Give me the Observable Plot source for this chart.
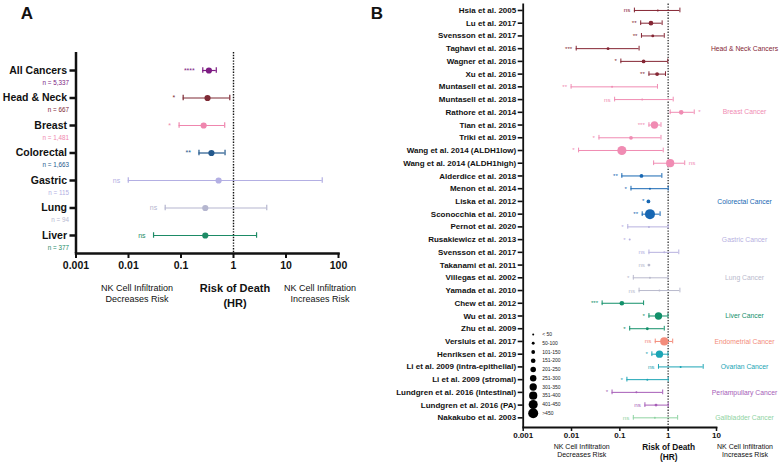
<!DOCTYPE html>
<html><head><meta charset="utf-8">
<script src="https://cdn.jsdelivr.net/npm/d3@7"></script>
<script src="https://cdn.jsdelivr.net/npm/@observablehq/plot@0.6"></script>
<style>
body{margin:0;background:#fff;font-family:"Liberation Sans",Arial,sans-serif;}
#wrap{position:relative;width:779px;height:462px;overflow:hidden;background:#fff;}
#wrap svg{position:absolute;overflow:visible;}
.abs{position:absolute;white-space:nowrap;text-align:center;color:#111;}
</style></head><body><div id="wrap"></div>
<script>
// ---------- Panel A data ----------
const aCats = ["All Cancers","Head & Neck","Breast","Colorectal","Gastric","Lung","Liver"];
const aHR = [0.34, 0.32, 0.27, 0.38, 0.52, 0.29, 0.29];
const aLo = [0.26, 0.11, 0.092, 0.22, 0.0099, 0.05, 0.03];
const aHi = [0.47, 0.85, 0.68, 0.69, 49, 4.3, 2.75];
const aN = ["n = 5,337","n = 667","n = 1,481","n = 1,663","n = 115","n = 94","n = 377"];
const aSig = ["****","*","*","**","ns","ns","ns"];
const aColors = ["#7D1C83","#7E2A35","#EF86AE","#24598D","#B3AFE3","#B5B6CF","#1D8B66"];
const aTicks = [0.001, 0.01, 0.1, 1, 10, 100];
const aTickLabels = ["0.001","0.01","0.1","1","10","100"];

// ---------- Panel B data ----------
const bStudies = ["Hsia et al. 2005","Lu et al. 2017","Svensson et al. 2017","Taghavi et al. 2016","Wagner et al. 2016","Xu et al. 2016",
 "Muntasell et al. 2018","Muntasell et al. 2018","Rathore et al. 2014","Tian et al. 2016","Triki et al. 2019","Wang et al. 2014 (ALDH1low)","Wang et al. 2014 (ALDH1high)",
 "Alderdice et al. 2018","Menon et al. 2014","Liska et al. 2012","Sconocchia et al. 2010",
 "Pernot et al. 2020","Rusakiewicz et al. 2013","Svensson et al. 2017",
 "Takanami et al. 2011","Villegas et al. 2002","Yamada et al. 2010",
 "Chew et al. 2012","Wu et al. 2013","Zhu et al. 2009",
 "Versluis et al. 2017",
 "Henriksen et al. 2019","Li et al. 2009 (intra-epithelial)","Li et al. 2009 (stromal)",
 "Lundgren et al. 2016 (Intestinal)","Lundgren et al. 2016 (PA)",
 "Nakakubo et al. 2003"];
const bGroupOf = ["Head & Neck Cancers","Head & Neck Cancers","Head & Neck Cancers","Head & Neck Cancers","Head & Neck Cancers","Head & Neck Cancers",
 "Breast Cancer","Breast Cancer","Breast Cancer","Breast Cancer","Breast Cancer","Breast Cancer","Breast Cancer",
 "Colorectal Cancer","Colorectal Cancer","Colorectal Cancer","Colorectal Cancer",
 "Gastric Cancer","Gastric Cancer","Gastric Cancer",
 "Lung Cancer","Lung Cancer","Lung Cancer",
 "Liver Cancer","Liver Cancer","Liver Cancer",
 "Endometrial Cancer",
 "Ovarian Cancer","Ovarian Cancer","Ovarian Cancer",
 "Periampullary Cancer","Periampullary Cancer",
 "Gallbladder Cancer"];
const bHR = [0.61,0.44,0.48,0.057,0.31,0.59, 0.069,0.29,1.86,0.52,0.17,0.11,1.1, 0.28,0.42,0.39,0.42, 0.40,0.16,0.83, 0.40,0.42,0.66, 0.11,0.63,0.37, 0.83, 0.66,1.81,0.37, 0.22,0.56, 0.53];
const bLo = [0.20,0.27,0.28,0.0125,0.105,0.40, 0.0098,0.078,1.1,0.40,0.037,0.014,0.50, 0.11,0.17,null,0.29, 0.146,null,0.40, null,0.19,0.25, 0.043,0.40,0.16, 0.54, 0.46,0.63,0.14, 0.069,0.33, 0.19];
const bHi = [1.75,0.75,0.83,0.25,0.98,0.88, 0.60,1.27,3.46,0.71,0.71,0.79,2.2, 0.74,1.0,null,0.68, 1.0,null,1.66, null,0.99,1.75, 0.31,0.99,0.83, 1.24, 0.99,5.3,1.0, 0.77,1.0, 1.57];
const bSig = ["ns","**","**","***","*","**", "**","ns","*","***","*","*","ns", "**","*","*","**", "*","*","ns", "ns","*","ns", "***","*","*", "ns", "*","ns","*", "*","ns", "ns"];
const bSizeClass = [0,3,1,1,2,2, 0,0,3,6,2,8,7, 2,0,2,9, 0,0,0, 1,0,0, 3,6,1, 7, 6,0,0, 0,1, 0];
const bSigRightRows = [8, 12];
const bGroups = ["Head & Neck Cancers","Breast Cancer","Colorectal Cancer","Gastric Cancer","Lung Cancer","Liver Cancer","Endometrial Cancer","Ovarian Cancer","Periampullary Cancer","Gallbladder Cancer"];
const bGroupColors = ["#852634","#F08CB3","#1767B3","#B7B1DF","#B9BACD","#12906A","#F38C7B","#1BA5B5","#A65DB8","#8FD3A2"];
const bGroupLabelRow = [3, 8, 15, 18, 21, 24, 26, 28, 30, 32];
const bTicks = [0.001, 0.01, 0.1, 1, 10];
const bTickLabels = ["0.001","0.01","0.1","1","10"];
const sizeLabels = ["< 50","50-100","101-150","151-200","201-250","251-300","301-350","351-400","401-450",">450"];

const FONT = '"Liberation Sans", Arial, sans-serif';
const wrap = document.getElementById("wrap");

// ---------- Panel A ----------
const aRows = aCats.map((c,i)=>({c, hr:aHR[i], lo:aLo[i], hi:aHi[i], n:aN[i], sig:aSig[i]}));
const plotA = Plot.plot({
  width:350, height:320, marginLeft:75.5, marginRight:12, marginTop:52, marginBottom:67,
  style:{fontFamily:FONT, background:"transparent", overflow:"visible", color:"#111"},
  x:{type:"log", domain:[0.001,100], label:null},
  y:{type:"band", domain:aCats, paddingInner:0, paddingOuter:0.155, round:false, label:null},
  color:{domain:aCats, range:aColors},
  marks:[
    Plot.ruleX([1], {stroke:"#111", strokeDasharray:"1.4,1.4", strokeWidth:1.4}),
    Plot.ruleY(aRows, {y:"c", x1:"lo", x2:"hi", stroke:"c", strokeWidth:1.2}),
    Plot.tickX(aRows, {y:"c", x:"lo", stroke:"c", strokeWidth:1.2, insetTop:11, insetBottom:11}),
    Plot.tickX(aRows, {y:"c", x:"hi", stroke:"c", strokeWidth:1.2, insetTop:11, insetBottom:11}),
    Plot.dot(aRows, {y:"c", x:"hr", fill:"c", r:3.1}),
    Plot.text(aRows, {y:"c", x:"lo", text:"sig", fill:"c", textAnchor:"end", dx:-8, fontSize:7}),
    Plot.text(aRows, {y:"c", text:"n", fill:"c", frameAnchor:"left", textAnchor:"end", dx:-7, dy:12, fontSize:6.3}),
    Plot.ruleX([0.001], {stroke:"#111", strokeWidth:2.5}),
    Plot.frame({anchor:"bottom", stroke:"#111", strokeWidth:2.5}),
    Plot.axisY({tickSize:6, tickPadding:3, fontSize:10.5, fontWeight:"bold", strokeWidth:2.5, label:null}),
    Plot.axisX({ticks:aTicks, tickFormat:(d,i)=>aTickLabels[aTicks.indexOf(d)], tickSize:5, tickPadding:3, fontSize:10.5, fontWeight:"bold", strokeWidth:2, label:null})
  ]
});
plotA.style.left = "0px"; plotA.style.top = "0px";
wrap.appendChild(plotA);

// ---------- Panel B ----------
const bRows = bStudies.map((s,i)=>({i, s, g:bGroupOf[i], hr:bHR[i], lo:bLo[i], hi:bHi[i], sig:bSig[i], sz:bSizeClass[i], right:bSigRightRows.includes(i)}));
const rScale = {type:"linear", domain:[0,9], range:[1,5]};
const bGroupRows = bGroups.map((g,k)=>({g, row:bGroupLabelRow[k]}));
const plotB = Plot.plot({
  width:429, height:462, marginLeft:172.7, marginRight:63, marginTop:3.6, marginBottom:35,
  style:{fontFamily:FONT, background:"transparent", overflow:"visible", color:"#111"},
  x:{type:"log", domain:[0.001,10], label:null},
  y:{type:"band", domain:d3.range(bStudies.length), paddingInner:0, paddingOuter:0, round:false, insetBottom:3.3, label:null},
  color:{domain:bGroups, range:bGroupColors},
  r:rScale,
  marks:[
    Plot.ruleX([1], {stroke:"#555", strokeDasharray:"1.3,1.5", strokeWidth:1.6}),
    Plot.ruleY(bRows.filter(d=>d.lo!=null), {y:"i", x1:"lo", x2:"hi", stroke:"g", strokeWidth:1}),
    Plot.tickX(bRows.filter(d=>d.lo!=null), {y:"i", x:"lo", stroke:"g", strokeWidth:1, insetTop:4, insetBottom:4}),
    Plot.tickX(bRows.filter(d=>d.hi!=null), {y:"i", x:"hi", stroke:"g", strokeWidth:1, insetTop:4, insetBottom:4}),
    Plot.dot(bRows, {y:"i", x:"hr", fill:"g", r:"sz"}),
    Plot.text(bRows.filter(d=>!d.right), {y:"i", x:d=>d.lo ?? d.hr, text:"sig", fill:"g", textAnchor:"end", dx:-4, fontSize:6.2}),
    Plot.text(bRows.filter(d=>d.right), {y:"i", x:"hi", text:"sig", fill:"g", textAnchor:"start", dx:4, fontSize:6.2}),
    Plot.text(bGroupRows, {y:"row", text:"g", fill:"g", frameAnchor:"right", dx:28, textAnchor:"middle", fontSize:6.8}),
    Plot.ruleX([0.001], {stroke:"#111", strokeWidth:1.8}),
    Plot.frame({anchor:"bottom", stroke:"#111", strokeWidth:1.8}),
    Plot.axisY({tickFormat:i=>bStudies[i], tickSize:5, tickPadding:2, fontSize:8, fontWeight:"bold", strokeWidth:1.6, label:null}),
    Plot.axisX({ticks:bTicks, tickFormat:d=>bTickLabels[bTicks.indexOf(d)], tickSize:4, tickPadding:1, fontSize:8, fontWeight:"bold", strokeWidth:1.5, label:null})
  ]
});
plotB.style.left = "350px"; plotB.style.top = "0px";
wrap.appendChild(plotB);

// ---------- Size legend (panel B) ----------
const legend = Plot.plot({
  width:40, height:92, marginLeft:5.7, marginRight:0, marginTop:6, marginBottom:7.3,
  style:{fontFamily:FONT, background:"transparent", overflow:"visible", color:"#111"},
  y:{type:"point", domain:sizeLabels, padding:0, round:false, axis:null},
  r:rScale,
  marks:[
    Plot.dot(sizeLabels, {y:d=>d, r:(d,i)=>i, fill:"#000", frameAnchor:"left"}),
    Plot.text(sizeLabels, {y:d=>d, text:d=>d, frameAnchor:"left", dx:9, textAnchor:"start", fontSize:5, fill:"#222"})
  ]
});
legend.style.left = "527px"; legend.style.top = "328px";
wrap.appendChild(legend);

// ---------- Text annotations ----------
function addText(html, cx, top, size, weight, lh){
  const d = document.createElement("div");
  d.className = "abs";
  d.innerHTML = html;
  d.style.left = (cx-70)+"px"; d.style.width = "140px";
  d.style.top = top+"px"; d.style.fontSize = size+"px"; d.style.fontWeight = weight; d.style.lineHeight = lh+"px";
  wrap.appendChild(d);
}
addText("A", 27, 5, 17, "bold", 17);
addText("B", 377, 5, 17, "bold", 17);
addText("NK Cell Infiltration<br>Decreases Risk", 137, 283, 9, "normal", 11);
addText("Risk of Death<br>(HR)", 235, 280.5, 11, "bold", 15);
addText("NK Cell Infiltration<br>Increases Risk", 320, 283, 9, "normal", 11);
addText("NK Cell Infiltration<br>Decreases Risk", 581.7, 443.3, 7, "normal", 8);
addText("Risk of Death<br>(HR)", 668.7, 442, 8.3, "bold", 10);
addText("NK Cell Infiltration<br>Increases Risk", 745, 443.3, 7, "normal", 8);
</script></body></html>
